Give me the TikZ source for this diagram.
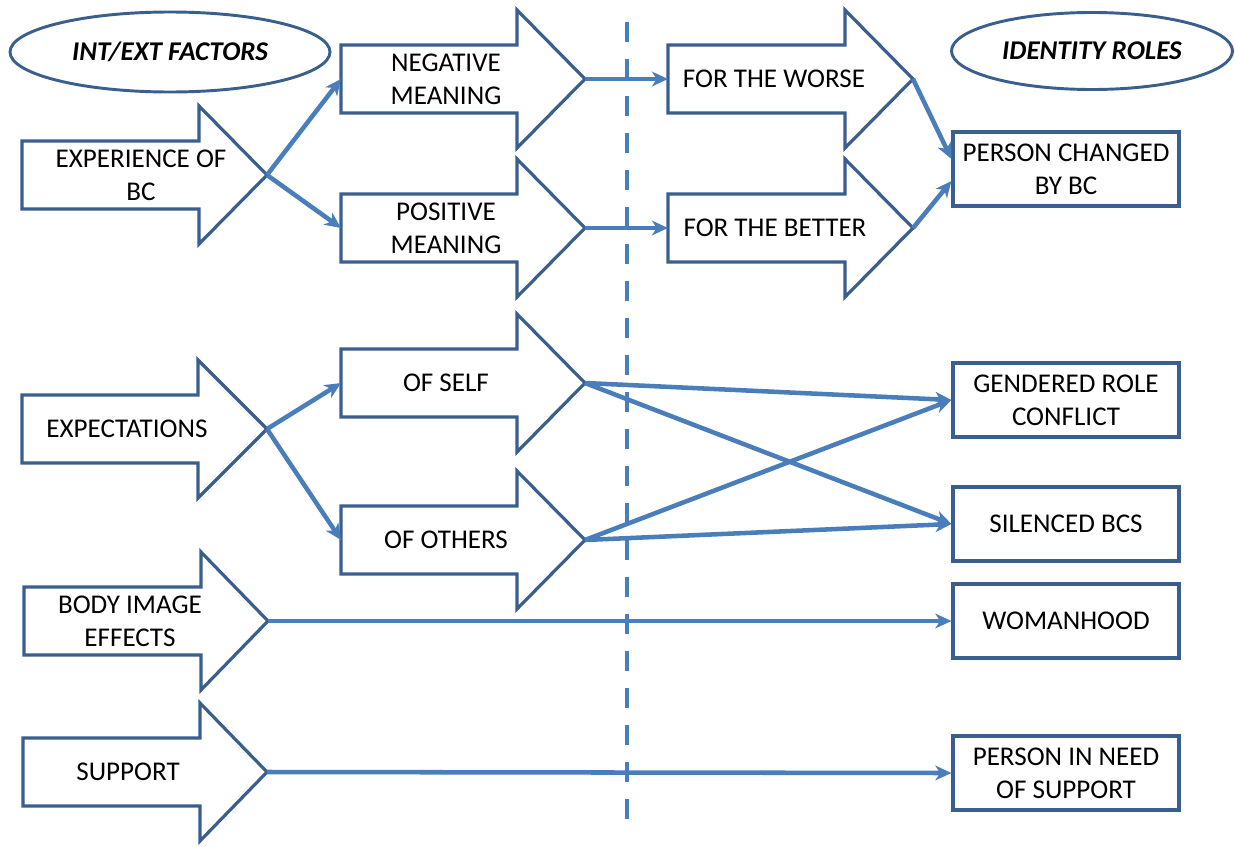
\documentclass[tikz,border=0pt]{standalone}
\usepackage{fontspec}
\setmainfont{Carlito}
\usetikzlibrary{arrows.meta,shapes.geometric}
\definecolor{outl}{HTML}{3A5F8F}
\definecolor{conn}{HTML}{4A7EBB}
\tikzset{
  barrowline/.style={draw=outl, line width=2.4pt, fill=white, line join=miter},
  lbl/.style={align=center, font=\fontsize{20.3}{24.6}\selectfont, inner sep=0pt},
  rbox/.style={draw=outl, line width=2.4pt, fill=white, minimum width=169.5pt,
    minimum height=55.5pt, align=center, font=\fontsize{20.3}{24.6}\selectfont, inner sep=0pt},
  hdr/.style={ellipse, draw=outl, line width=2.2pt, align=center,
    font=\fontsize{20.3}{24.6}\selectfont\bfseries\itshape, inner sep=0pt},
  link/.style={draw=conn, line width=3.4pt, -{Stealth[length=12pt,width=11pt,inset=3.5pt]}},
  divider/.style={draw=conn, line width=2.7pt, dash pattern=on 15pt off 12.75pt},
}
% name, left x, centre y, head base x, tip x, text x, text
\newcommand{\barrow}[7]{%
  \draw[barrowline] (#2,#3-34) -- (#4,#3-34) -- (#4,#3-69) -- (#5,#3) -- (#4,#3+69) -- (#4,#3+34) -- (#2,#3+34) -- cycle;
  \coordinate (#1-tail) at (#2,#3);
  \coordinate (#1-tip) at (#5,#3);
  \node[lbl] (#1) at (#6,#3) {#7};}
\begin{document}
\begin{tikzpicture}[x=0.75pt,y=-0.75pt]
\useasboundingbox (0,0) rectangle (1235,846);
% divider
\coordinate (dtop) at (627,22);
\coordinate (dbot) at (627,822);
\draw[divider] (dtop) -- (dbot);
% headers
\node[hdr, minimum width=240pt, minimum height=60pt] (h1) at (170,52) {INT/EXT FACTORS};
\node[hdr, minimum width=210.75pt, minimum height=57.75pt] (h2) at (1092,51) {IDENTITY ROLES};
% block arrows
\barrow{exp}{22}{175}{199}{267}{141}{EXPERIENCE OF\\BC}
\barrow{neg}{341}{79}{517}{585}{446}{NEGATIVE\\MEANING}
\barrow{pos}{341}{228}{517}{585}{446}{POSITIVE\\MEANING}
\barrow{worse}{668}{79}{845}{913}{774}{FOR THE WORSE}
\barrow{better}{668}{228}{845}{913}{775}{FOR THE BETTER}
\barrow{expect}{22}{429}{198}{267}{127}{EXPECTATIONS}
\barrow{self}{341}{383}{517}{585}{446}{OF SELF}
\barrow{others}{341}{540}{517}{585}{446}{OF OTHERS}
\barrow{body}{24}{621}{201}{268}{130}{BODY IMAGE\\EFFECTS}
\barrow{support}{23}{772}{200}{267}{128}{SUPPORT}
% right boxes
\node[rbox] (pcb) at (1066,169) {PERSON CHANGED\\BY BC};
\node[rbox] (grc) at (1066,400) {GENDERED ROLE\\CONFLICT};
\node[rbox] (sil) at (1066,524) {SILENCED BCS};
\node[rbox] (woman) at (1066,621) {WOMANHOOD};
\node[rbox] (need) at (1066,773) {PERSON IN NEED\\OF SUPPORT};
% connectors
\draw[link] (exp-tip) -- (neg-tail);
\draw[link] (exp-tip) -- (pos-tail);
\draw[link] (neg-tip) -- (worse-tail);
\draw[link] (pos-tip) -- (better-tail);
\draw[link] (worse-tip) -- (pcb.175);
\draw[link] (better-tip) -- (pcb.186);
\draw[link] (expect-tip) -- (self-tail);
\draw[link] (expect-tip) -- (others-tail);
\draw[link] (self-tip) -- (grc.west);
\draw[link] (self-tip) -- (sil.west);
\draw[link] (others-tip) -- (grc.west);
\draw[link] (others-tip) -- (sil.west);
\draw[link] (body-tip) -- (woman.west);
\draw[link] (support-tip) -- (need.west);
\end{tikzpicture}
\end{document}
